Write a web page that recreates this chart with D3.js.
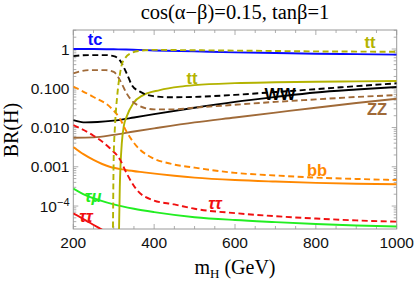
<!DOCTYPE html>
<html>
<head>
<meta charset="utf-8">
<script src="https://cdn.jsdelivr.net/npm/d3@7"></script>
<style>
  body { margin: 0; background: #fff; }
  svg { display: block; }
</style>
</head>
<body>
<script>
// mass grid in GeV, branching ratio
const tcSolid = [[200,1.0],[250,1.0],[300,0.985],[330,0.97],[360,0.95],[400,0.92],[500,0.87],[600,0.82],[700,0.79],[800,0.76],[900,0.74],[1000,0.72]];
const ttDashed = [[296,1e-6],[298,2e-5],[299,3e-4],[300,1.8e-3],[303,0.0103],[309,0.07],[315,0.22],[320,0.4],[328,0.58],[345,0.8],[365,0.9],[400,0.95],[500,0.93],[600,0.91],[700,0.89],[800,0.87],[900,0.86],[1000,0.85]];
const ttSolid = [[311,1e-6],[313,2e-5],[315,3e-4],[317,1.2e-3],[320,0.004],[325,0.011],[332,0.019],[348,0.041],[373,0.067],[414,0.09],[464,0.11],[500,0.12],[600,0.135],[700,0.142],[800,0.147],[900,0.15],[1000,0.153]];
const wwDashed = [[200,0.66],[240,0.7],[280,0.7],[300,0.66],[315,0.52],[332,0.24],[345,0.12],[365,0.082],[398,0.063],[440,0.059],[513,0.061],[600,0.068],[700,0.08],[800,0.095],[900,0.113],[1000,0.134]];
const wwSolid = [[200,0.0155],[230,0.0135],[260,0.0138],[300,0.015],[350,0.018],[400,0.022],[500,0.032],[600,0.045],[700,0.06],[800,0.078],[900,0.093],[1000,0.108]];
const zzDashed = [[200,0.24],[240,0.29],[280,0.29],[300,0.26],[310,0.2],[320,0.13],[332,0.074],[345,0.048],[365,0.035],[400,0.029],[450,0.029],[500,0.032],[600,0.038],[700,0.045],[800,0.052],[900,0.06],[1000,0.067]];
const zzSolid = [[200,0.0055],[250,0.0056],[300,0.0065],[350,0.0079],[400,0.0095],[500,0.0135],[600,0.018],[700,0.024],[800,0.032],[900,0.042],[1000,0.054]];
const bbDashed = [[200,0.11],[250,0.06],[290,0.034],[315,0.017],[332,0.0078],[357,0.0033],[390,0.0018],[440,0.0012],[500,0.00095],[600,0.0007],[700,0.0006],[800,0.00053],[900,0.00049],[1000,0.00046]];
const bbSolid = [[200,0.0032],[225,0.0021],[250,0.0015],[290,0.001],[330,0.00083],[375,0.00072],[450,0.00059],[500,0.00053],[600,0.00046],[700,0.00042],[800,0.00039],[900,0.00037],[1000,0.00036]];
const tautauDashed = [[200,0.0115],[250,0.0062],[290,0.003],[316,0.0015],[332,0.00068],[357,0.00026],[398,0.00014],[450,0.00011],[500,0.000085],[600,0.000066],[700,0.000055],[800,0.000048],[900,0.000043],[1000,0.00004]];
const tauMuSolid = [[200,0.00028],[230,0.00019],[266,0.00014],[300,0.00011],[350,0.000085],[400,0.00007],[500,0.000052],[600,0.000044],[700,0.000039],[800,0.000035],[900,0.000032],[1000,0.00003]];
const tautauSolid = [[200,0.000065],[220,0.00005],[240,0.000038],[260,0.000029],[280,0.000022],[300,0.000017]];

const xTicks = [200, 400, 600, 800, 1000];
const yTicks = [1, 0.1, 0.01, 0.001, 1e-4];
const yTickLabels = ['1', '0.100', '0.010', '0.001', '10^-4'];

const width = 415, height = 282;
const margin = {top: 30, right: 18.3, bottom: 53, left: 73.3};

const svg = d3.select('body').append('svg')
    .attr('width', width)
    .attr('height', height);

const x = d3.scaleLinear().domain([200, 1000]).range([margin.left, width - margin.right]);
const y = d3.scaleLog().domain([2.6e-5, 3.05]).range([height - margin.bottom, margin.top]);

svg.append('defs').append('clipPath').attr('id', 'plot')
  .append('rect')
    .attr('x', x.range()[0]).attr('y', y.range()[1])
    .attr('width', x.range()[1] - x.range()[0])
    .attr('height', y.range()[0] - y.range()[1]);

///////////////////////////////////////////////////////////////
// frame + ticks (Mathematica style, ticks inside on all sides)
const frameColor = '#999';
const minorX = d3.range(200, 1001, 50);
const minorY = [];
for (let e = -5; e <= 0; e++)
  for (let k = 1; k <= 9; k++) {
    const v = k * Math.pow(10, e);
    if (v >= 2.6e-5 && v <= 3.05) minorY.push(v);
  }

const x0 = x.range()[0], x1 = x.range()[1], y0 = y.range()[0], y1 = y.range()[1];
const ticks = svg.append('g').attr('stroke', frameColor).attr('stroke-width', 0.8);
minorX.forEach(m => {
  const len = xTicks.includes(m) ? 5 : 3;
  ticks.append('line').attr('x1', x(m)).attr('x2', x(m)).attr('y1', y0).attr('y2', y0 - len);
  ticks.append('line').attr('x1', x(m)).attr('x2', x(m)).attr('y1', y1).attr('y2', y1 + len);
});
minorY.forEach(v => {
  const len = yTicks.some(t => Math.abs(t - v) / t < 1e-6) ? 5 : 3;
  ticks.append('line').attr('x1', x0).attr('x2', x0 + len).attr('y1', y(v)).attr('y2', y(v));
  ticks.append('line').attr('x1', x1).attr('x2', x1 - len).attr('y1', y(v)).attr('y2', y(v));
});

svg.append('rect')
    .attr('x', x0).attr('y', y1)
    .attr('width', x1 - x0).attr('height', y0 - y1)
    .attr('fill', 'none').attr('stroke', frameColor).attr('stroke-width', 1);

// tick labels
const tickFont = '"Liberation Sans", Arial, sans-serif';
svg.append('g').selectAll('text').data(xTicks).join('text')
    .attr('x', d => x(d)).attr('y', 248)
    .attr('text-anchor', 'middle')
    .attr('font-family', tickFont).attr('font-size', 15.5).attr('fill', '#111')
    .text(d => d);

const yl = svg.append('g').selectAll('text').data(yTicks).join('text')
    .attr('x', 69.5).attr('y', d => y(d) + 5.5)
    .attr('text-anchor', 'end')
    .attr('font-family', tickFont).attr('font-size', 15.5).attr('fill', '#111');
yl.each(function(d, i) {
  const t = d3.select(this);
  const lab = yTickLabels[i];
  if (lab.includes('^')) {
    const parts = lab.split('^');
    t.append('tspan').text(parts[0]);
    t.append('tspan').attr('dy', -6).attr('font-size', 11).text(parts[1].replace('-', '\u2212'));
  } else {
    t.text(lab);
  }
});

// titles
const serif = '"Liberation Serif", "Times New Roman", serif';
svg.append('text')
    .attr('x', 235).attr('y', 19)
    .attr('text-anchor', 'middle')
    .attr('font-family', serif).attr('font-size', 20.5)
    .text('cos(\u03b1\u2212\u03b2)=0.15, tan\u03b2=1');

const xl = svg.append('text')
    .attr('x', 235).attr('y', 274)
    .attr('text-anchor', 'middle')
    .attr('font-family', serif).attr('font-size', 20);
xl.append('tspan').text('m');
xl.append('tspan').attr('dy', 4).attr('font-size', 13).text('H');
xl.append('tspan').attr('dy', -4).text(' (GeV)');

svg.append('text')
    .attr('transform', 'translate(18,130) rotate(-90)')
    .attr('text-anchor', 'middle')
    .attr('font-family', serif).attr('font-size', 20)
    .text('BR(H)');

///////////////////////////////////////////////////////////////
// curves
const line = d3.line()
    .x(d => x(d[0]))
    .y(d => y(Math.max(d[1], 1e-7)))
    .curve(d3.curveMonotoneX);

const blue = '#0a0aff', olive = '#b3b300', brown = '#a06a38',
      orange = '#ff8800', red = '#f01010', green = '#22ee22';
const dash = '6,3.5';

const curves = [
  {data: tcSolid, color: blue, dashed: false},
  {data: zzSolid, color: brown, dashed: false},
  {data: wwSolid, color: '#000', dashed: false},
  {data: bbSolid, color: orange, dashed: false},
  {data: tauMuSolid, color: green, dashed: false},
  {data: tautauSolid, color: red, dashed: false},
  {data: ttSolid, color: olive, dashed: false},
  {data: zzDashed, color: brown, dashed: true},
  {data: wwDashed, color: '#000', dashed: true},
  {data: bbDashed, color: orange, dashed: true},
  {data: tautauDashed, color: red, dashed: true},
  {data: ttDashed, color: olive, dashed: true}
];

svg.append('g').attr('clip-path', 'url(#plot)')
  .selectAll('path').data(curves).join('path')
    .attr('d', d => line(d.data))
    .attr('fill', 'none')
    .attr('stroke', d => d.color)
    .attr('stroke-width', 1.9)
    .attr('stroke-dasharray', d => d.dashed ? dash : null);

// curve labels
const labels = [
  {text: 'tc', x: 95, y: 45, color: blue, italic: false},
  {text: 'tt', x: 370, y: 48, color: olive, italic: false},
  {text: 'tt', x: 192, y: 84, color: olive, italic: false},
  {text: 'WW', x: 280, y: 100, color: '#000', italic: false},
  {text: 'ZZ', x: 377, y: 115, color: brown, italic: false},
  {text: 'bb', x: 317, y: 176, color: orange, italic: false},
  {text: '\u03c4\u03c4', x: 215, y: 209, color: red, italic: true},
  {text: '\u03c4\u03bc', x: 93, y: 202, color: green, italic: true},
  {text: '\u03c4\u03c4', x: 86, y: 222, color: red, italic: true}
];

svg.append('g').selectAll('text').data(labels).join('text')
    .attr('x', d => d.x).attr('y', d => d.y)
    .attr('text-anchor', 'middle')
    .attr('font-family', tickFont)
    .attr('font-weight', 'bold')
    .attr('font-style', d => d.italic ? 'italic' : 'normal')
    .attr('font-size', 16.5)
    .attr('fill', d => d.color)
    .text(d => d.text);
</script>
</body>
</html>
